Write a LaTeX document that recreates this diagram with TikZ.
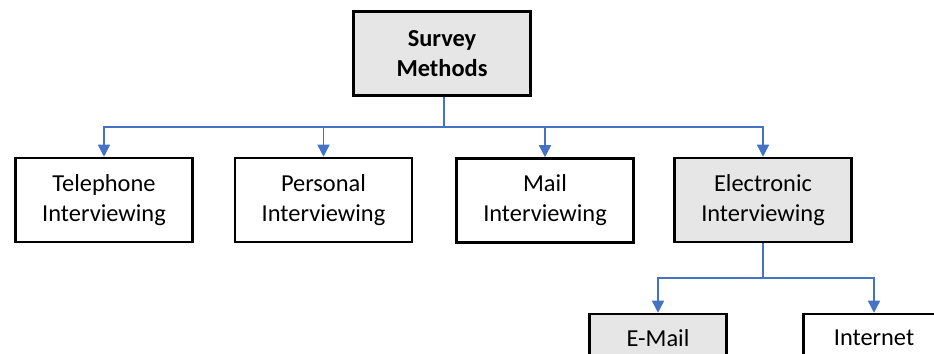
\documentclass[tikz,border=0pt]{standalone}
\usepackage{fontspec}
\setmainfont{Carlito}
\usepackage{tikz}
\usetikzlibrary{arrows.meta}
\definecolor{linkblue}{HTML}{4472C4}
\definecolor{boxgrey}{HTML}{E6E6E6}
\tikzset{
  box/.style={draw=black, line width=1.9pt, fill=white, align=center,
    minimum width=133pt, minimum height=63pt, inner sep=2pt,
    font=\fontsize{18.3}{22.5}\selectfont},
  greybox/.style={box, fill=boxgrey},
  link/.style={draw=linkblue, line width=1.1pt,
    -{Triangle[length=9pt, width=9pt]}},
}

\begin{document}
\begin{tikzpicture}[x=0.75pt, y=-0.75pt]
    \useasboundingbox (0,0) rectangle (934,353);
    \clip (0,0) rectangle (934,353);
    % top level
    \node[greybox, font=\fontsize{18.3}{22.5}\bfseries\selectfont] (survey) at (442,53.5) {Survey\\Methods};
    \node[box] (phone) at (104,200) {Telephone\\Interviewing};
    \node[box] (personal) at (323.5,200) {Personal\\Interviewing};
    \node[box] (mail) at (545,200.5) {Mail\\Interviewing};
    \node[greybox] (electronic) at (763,200) {Electronic\\Interviewing};
    % second level
    \node[greybox, minimum width=103pt, minimum height=36pt] (email) at (658,338) {E-Mail};
    \node[box, minimum width=106pt, minimum height=36pt] (internet) at (874,338) {Internet};
    % connectors
    \coordinate (bus) at (444,127);
    \coordinate (subbus) at (763,278);
    \draw[link] (bus |- survey.south) -- (bus) -| (phone.north);
    \draw[link] (bus) -| (personal.north);
    \draw[link] (bus) -| (mail.north);
    \draw[link] (bus) -| (electronic.north);
    \draw[link] (electronic.south) -- (subbus) -| (email.north);
    \draw[link] (subbus) -| (internet.north);
\end{tikzpicture}
\end{document}
